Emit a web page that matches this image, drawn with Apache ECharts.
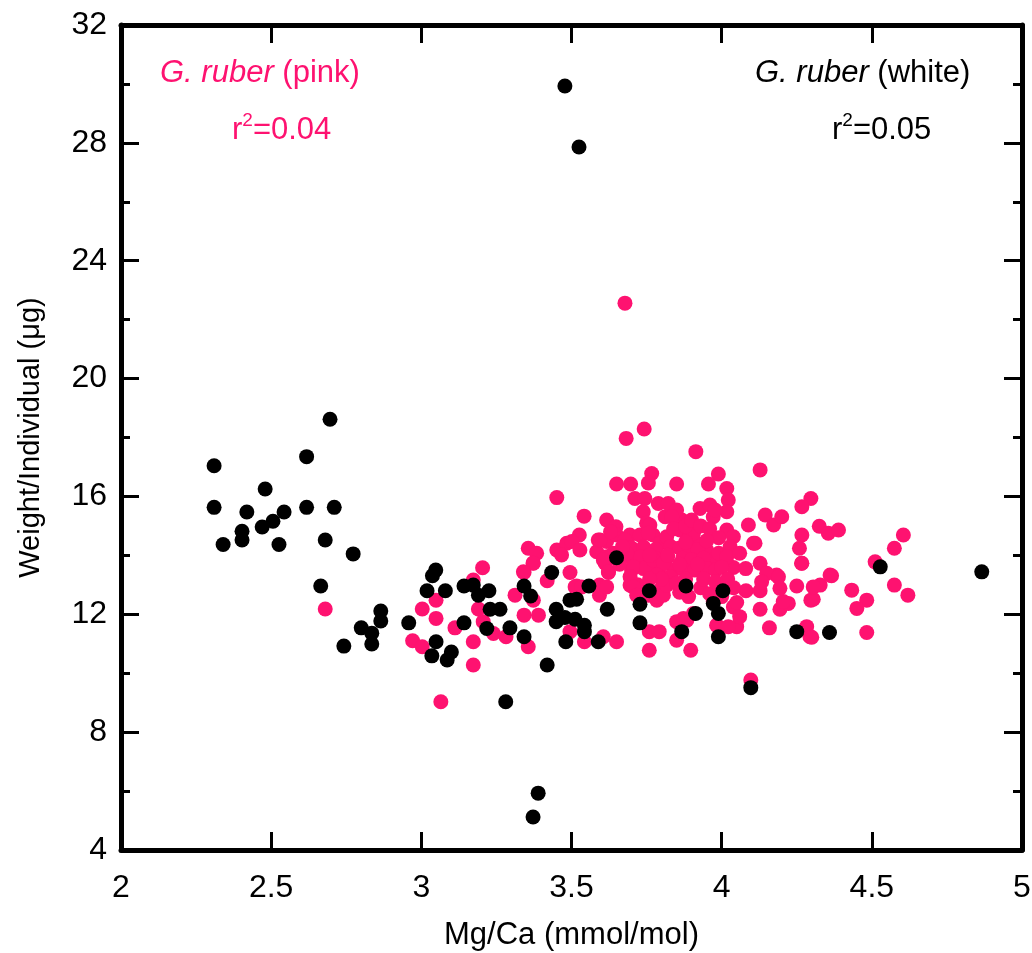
<!DOCTYPE html>
<html>
<head>
<meta charset="utf-8">
<script src="https://cdn.jsdelivr.net/npm/echarts@6/dist/echarts.min.js"></script>
<style>
html, body { margin: 0; background: #fff; }
#main { width: 1032px; height: 953px; }
</style>
</head>
<body>
<div id="main"></div>
<script>
// G. ruber (pink): [Mg/Ca, weight]
var pinkPts = [
  [3.678, 22.56], [3.742, 18.29], [3.682, 17.97], [3.914, 17.52], [4.128, 16.90],
  [2.68, 12.18], [3.065, 9.03], [4.097, 9.77],
  [2.971, 11.10], [3.003, 10.90], [3.003, 12.18], [3.049, 12.48], [3.049, 11.86], [3.112, 11.54],
  [3.173, 13.16], [3.204, 13.58], [3.19, 12.18], [3.206, 11.75], [3.173, 11.07], [3.173, 10.28],
  [3.342, 13.42], [3.372, 13.74], [3.419, 13.14], [3.495, 13.42], [3.517, 12.96], [3.593, 12.99],
  [3.593, 12.65], [3.612, 13.73], [3.623, 13.42], [3.312, 12.65], [3.373, 12.48], [3.342, 11.97],
  [3.39, 11.97], [3.24, 11.35], [3.282, 11.24], [3.356, 10.90], [3.495, 11.41], [3.543, 11.07],
  [3.606, 11.24], [3.65, 11.07],
  [3.759, 10.78], [3.897, 10.78], [3.759, 11.41], [3.792, 11.41], [3.85, 11.12], [3.85, 11.75],
  [3.983, 11.63], [4.05, 11.58], [4.039, 12.25], [4.128, 12.17], [4.159, 11.54], [4.194, 12.17],
  [4.222, 12.37], [4.294, 11.24], [4.283, 11.58], [4.297, 12.48], [4.25, 12.96], [4.081, 12.80],
  [4.128, 12.80], [4.183, 13.33], [4.039, 13.59], [4.266, 13.73], [3.795, 12.71], [3.695, 12.99],
  [3.617, 12.93], [3.784, 12.48], [4.06, 11.92],
  [4.511, 13.78], [4.605, 14.69], [4.575, 14.24], [4.575, 12.99], [4.62, 12.65], [4.433, 12.82],
  [4.483, 12.48], [4.45, 12.20], [4.483, 11.38], [4.30, 11.22], [4.297, 15.93], [4.267, 15.65],
  [4.325, 14.99], [4.355, 14.75], [4.389, 14.86], [4.267, 14.69], [4.259, 14.24], [4.267, 13.73],
  [4.328, 12.99], [4.305, 12.51], [4.366, 13.31], [4.205, 12.43],
  [3.989, 16.76], [3.956, 16.42], [4.017, 16.27], [4.022, 15.88], [4.017, 15.48], [4.089, 15.03],
  [4.145, 15.37], [4.173, 15.03], [4.20, 15.31], [4.111, 14.41], [4.128, 13.73], [4.15, 13.39],
  [4.189, 13.27], [4.133, 13.10], [4.194, 12.88],
  [3.451, 15.96], [3.767, 16.78], [3.756, 16.46], [3.65, 16.42], [3.697, 16.42], [3.85, 16.42],
  [3.542, 15.33], [3.617, 15.20], [3.648, 14.97], [3.526, 14.69], [3.711, 15.93], [3.744, 15.93],
  [3.739, 15.48], [3.789, 15.76], [3.822, 15.76], [3.845, 15.41], [3.867, 15.20], [3.928, 15.59],
  [3.961, 15.71], [3.972, 15.31], [3.356, 14.24], [3.384, 14.07], [3.451, 14.18], [3.484, 14.41],
  [3.501, 14.47], [3.589, 14.52], [3.617, 14.47], [3.584, 14.12], [3.528, 14.18],
  [3.65, 14.69], [3.694, 14.69], [3.728, 14.69], [3.75, 15.09], [3.772, 14.69], [3.795, 14.41],
  [3.817, 14.63], [3.861, 14.86], [3.894, 14.63], [3.917, 14.41], [3.95, 14.18], [3.972, 13.84],
  [3.85, 15.54], [3.978, 15.54], [3.761, 15.03], [3.756, 14.75], [3.678, 14.52], [3.812, 15.31],
  [3.834, 15.31], [3.906, 14.75], [4.017, 14.86], [4.039, 14.63], [4.028, 14.29], [3.639, 14.07],
  [3.70, 14.25], [3.74, 14.28], [3.78, 14.20], [3.83, 14.30], [3.86, 14.25], [3.89, 14.30],
  [3.92, 14.20], [3.99, 14.07], [4.017, 13.95], [4.06, 14.07], [4.106, 14.41], [4.305, 12.93],
  [4.361, 13.33], [3.617, 13.95],
  [3.70, 13.90], [3.73, 13.95], [3.78, 13.90], [3.82, 13.95], [3.87, 13.90], [3.90, 13.85], [3.94, 13.90],
  [3.70, 13.50], [3.74, 13.55], [3.79, 13.50], [3.84, 13.50], [3.87, 13.55], [3.91, 13.50],
  [3.95, 13.55], [3.98, 13.50], [4.00, 13.60], [4.08, 13.55],
  [3.72, 13.00], [3.80, 12.90], [3.86, 12.75], [3.89, 12.60], [3.93, 12.90], [3.96, 12.70],
  [4.00, 12.60], [4.05, 12.40],
  [3.873, 11.86], [3.989, 11.58], [4.022, 11.58], [3.972, 12.43],
  [3.595, 14.52], [3.606, 13.84], [3.623, 13.44], [3.373, 13.73], [3.467, 14.01], [3.34, 13.44],
  [3.512, 12.93], [3.534, 12.93], [3.684, 14.07], [3.706, 13.61], [3.695, 13.27], [3.706, 12.93],
  [3.717, 12.65], [3.75, 13.61], [3.772, 13.84], [3.806, 13.73], [3.784, 13.33], [3.756, 12.65],
  [3.784, 12.60], [3.806, 12.65], [3.884, 11.80], [3.906, 12.03], [3.828, 13.27], [3.817, 12.99],
  [3.85, 13.05],
  [3.84, 14.90], [3.88, 15.00], [3.90, 15.20], [3.93, 15.00], [3.96, 14.90], [3.99, 14.60],
  [3.95, 14.50], [3.88, 14.45], [3.82, 14.00], [3.76, 14.00], [3.86, 13.70], [3.92, 13.70],
  [3.80, 13.20], [3.88, 13.20], [3.94, 13.20], [3.98, 13.10], [4.02, 13.20], [4.04, 12.90],
  [3.76, 13.20], [3.66, 13.70], [3.67, 14.30], [3.63, 14.80]
];

// G. ruber (white)
var whitePts = [
  [3.478, 29.93], [3.525, 27.86],
  [2.696, 18.62], [2.618, 17.35], [2.31, 17.04], [2.48, 16.25], [2.31, 15.63], [2.419, 15.47],
  [2.47, 14.96], [2.506, 15.16], [2.543, 15.47], [2.618, 15.63], [2.71, 15.63], [2.34, 14.37],
  [2.403, 14.82], [2.403, 14.52], [2.526, 14.37], [2.68, 14.52], [2.773, 14.05], [2.665, 12.96],
  [2.865, 12.11], [2.865, 11.77], [2.80, 11.54], [2.835, 11.36], [2.835, 10.99], [2.742, 10.92],
  [2.958, 11.71],
  [3.048, 13.50], [3.037, 13.31], [3.019, 12.80], [3.08, 12.80], [3.142, 12.96], [3.173, 12.99],
  [3.19, 12.65], [3.225, 12.80], [3.142, 11.71], [3.218, 11.52], [3.049, 11.07], [3.035, 10.59],
  [3.086, 10.45], [3.10, 10.72],
  [3.229, 12.17], [3.262, 12.17], [3.295, 11.54], [3.342, 12.96], [3.364, 12.62], [3.342, 11.24],
  [3.434, 13.42],
  [3.449, 12.17], [3.449, 11.75], [3.478, 11.89], [3.495, 12.48], [3.517, 12.51], [3.512, 11.83],
  [3.543, 11.63], [3.543, 11.41], [3.481, 11.07], [3.558, 12.96], [3.589, 11.07], [3.619, 12.17],
  [3.419, 10.28], [3.281, 9.03], [3.372, 5.12], [3.389, 5.93],
  [3.65, 13.92], [3.759, 12.80], [3.881, 12.96], [4.004, 12.80], [3.728, 12.34], [3.913, 12.03],
  [3.972, 12.37], [3.989, 12.03], [3.728, 11.71], [3.867, 11.41], [3.989, 11.24], [4.25, 11.41],
  [4.097, 9.51], [4.528, 13.61], [4.866, 13.44], [4.359, 11.38]
];

var xTicks = { min: 2, max: 5, step: 0.5 };
var yTicks = { min: 4, max: 32, step: 4 };

var pinkColor = '#fe1270';
var textFont = "'Liberation Sans', Arial, Helvetica, sans-serif";

var chart = echarts.init(document.getElementById('main'));

function xAxisOpt(pos, showLabel) {
  return {
    type: 'value', position: pos,
    min: xTicks.min, max: xTicks.max, interval: xTicks.step,
    axisLine: { onZero: false, lineStyle: { color: '#000', width: 5 } },
    axisTick: { inside: true, length: 18, lineStyle: { color: '#000', width: 3 } },
    axisLabel: { show: showLabel, color: '#000', fontSize: 32, fontFamily: textFont, margin: 22 },
    splitLine: { show: false },
    name: showLabel ? 'Mg/Ca (mmol/mol)' : '',
    nameLocation: 'middle', nameGap: 70,
    nameTextStyle: { color: '#000', fontSize: 31, fontFamily: textFont }
  };
}
function yAxisOpt(pos, showLabel) {
  return {
    type: 'value', position: pos,
    min: yTicks.min, max: yTicks.max, interval: yTicks.step,
    axisLine: { onZero: false, lineStyle: { color: '#000', width: 5 } },
    axisTick: { inside: true, length: 18, lineStyle: { color: '#000', width: 3 } },
    minorTick: { show: true, splitNumber: 2, length: 9, lineStyle: { color: '#000', width: 3 } },
    axisLabel: { show: showLabel, color: '#000', fontSize: 32, fontFamily: textFont, margin: 14 },
    splitLine: { show: false },
    name: showLabel ? 'Weight/Individual (\u03bcg)' : '',
    nameLocation: 'middle', nameGap: 76,
    nameTextStyle: { color: '#000', fontSize: 29, fontFamily: textFont }
  };
}

function rSquared(left, value, color) {
  return {
    type: 'text', left: left, top: 111,
    style: {
      text: 'r{sup|2}=' + value,
      fill: color, font: '31px ' + textFont,
      rich: {
        sup: { fontSize: 19, fontFamily: textFont, fill: color, verticalAlign: 'top', lineHeight: 38 }
      }
    }
  };
}
function speciesLabel(left, tag, color) {
  return {
    type: 'text', left: left, top: 58,
    style: {
      text: '{i|G. ruber} (' + tag + ')',
      fill: color, font: '31px ' + textFont,
      rich: { i: { fontStyle: 'italic', fontSize: 31, fontFamily: textFont, fill: color } }
    }
  };
}

var option = {
  backgroundColor: '#fff',
  animation: false,
  grid: { left: 121, right: 10, top: 25, bottom: 103, outerBoundsMode: 'none', containLabel: false },
  xAxis: [xAxisOpt('bottom', true), xAxisOpt('top', false)],
  yAxis: [yAxisOpt('left', true), yAxisOpt('right', false)],
  series: [
    {
      name: 'G. ruber (pink)', type: 'scatter', symbol: 'circle', symbolSize: 15,
      itemStyle: { color: pinkColor, opacity: 1 },
      data: pinkPts
    },
    {
      name: 'G. ruber (white)', type: 'scatter', symbol: 'circle', symbolSize: 15,
      itemStyle: { color: '#000', opacity: 1 },
      data: whitePts
    }
  ],
  graphic: [
    speciesLabel(160, 'pink', pinkColor),
    rSquared(232, '0.04', pinkColor),
    speciesLabel(755, 'white', '#000'),
    rSquared(832, '0.05', '#000')
  ]
};

chart.setOption(option);
</script>
</body>
</html>
